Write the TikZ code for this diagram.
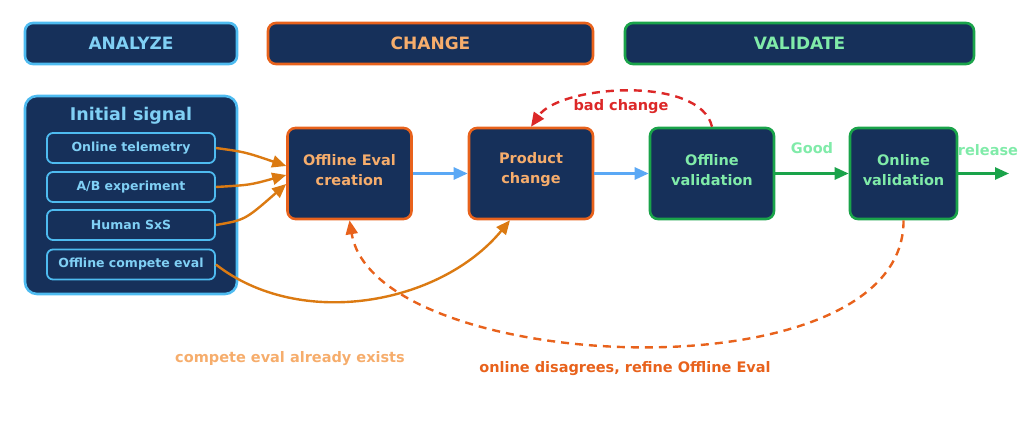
\documentclass[tikz,border=0pt]{standalone}
\usepackage{fontspec}
\setmainfont{DejaVu Sans}
\usetikzlibrary{arrows.meta}
\definecolor{navy}{HTML}{16305A}
\definecolor{skyline}{HTML}{4EBBF0}
\definecolor{skytext}{HTML}{80D0F5}
\definecolor{orline}{HTML}{E8621C}
\definecolor{ortext}{HTML}{F6AD6C}
\definecolor{grline}{HTML}{1AA34A}
\definecolor{grtext}{HTML}{80EBA9}
\definecolor{badred}{HTML}{DC2828}
\definecolor{feed}{HTML}{DB7A12}
\definecolor{flow}{HTML}{5AA8F5}
\tikzset{
    stage/.style = {
        draw, fill = navy, rounded corners = 8pt, line width = 2.6pt,
        font = \fontsize{17}{20}\selectfont\bfseries,
    },
    phase/.style = {
        stage, minimum width = 124pt, minimum height = 91pt,
        align = center, font = \fontsize{14.5}{20}\selectfont\bfseries,
    },
    signal/.style = {
        draw = skyline, fill = navy, text = skytext, rounded corners = 6pt,
        line width = 1.8pt, minimum width = 168pt, minimum height = 30pt,
        font = \fontsize{12.5}{14}\selectfont\bfseries,
    },
    tag/.style = {font = \fontsize{14.5}{17}\selectfont\bfseries},
}

\begin{document}
\begin{tikzpicture}[x=1pt, y=-1pt, >={Triangle[length=14pt,width=12pt]}]
  \useasboundingbox (0,0) rectangle (1024,425);

  % phase headers
  \node[stage, draw=skyline, text=skytext, minimum width=212pt, minimum height=41pt] (analyze) at (131,43.5) {ANALYZE};
  \node[stage, draw=orline, text=ortext, minimum width=325pt, minimum height=41pt] (change) at (430.5,43.5) {CHANGE};
  \node[stage, draw=grline, text=grtext, minimum width=349pt, minimum height=41pt] (validate) at (799.5,43.5) {VALIDATE};

  % initial signal group
  \node[stage, draw=skyline, rounded corners=12pt, minimum width=212pt, minimum height=198pt] (group) at (131,195) {};
  \node[text=skytext, font=\fontsize{17.5}{20}\selectfont\bfseries] (title) at (131,116) {Initial signal};
  \node[signal] (tele) at (131,148) {Online telemetry};
  \node[signal] (ab) at (131,187) {A/B experiment};
  \node[signal] (sxs) at (131,225) {Human SxS};
  \node[signal] (compete) at (131,264.5) {Offline compete eval};

  % main steps
  \node[phase, draw=orline, text=ortext] (eval) at (349.5,173.5) {Offline Eval\\creation\\[-12pt]};
  \node[phase, draw=orline, text=ortext] (product) at (531,173.5) {Product\\change\\[-8pt]};
  \node[phase, draw=grline, text=grtext] (offval) at (712,173.5) {Offline\\validation\\[-12pt]};
  \node[phase, draw=grline, text=grtext, minimum width=107pt] (onval) at (903.5,173.5) {Online\\validation\\[-12pt]};
  \coordinate (out) at (1009,173.5);

  \draw[->, flow, line width=2.6pt] (eval) -- (product);
  \draw[->, flow, line width=2.6pt] (product) -- (offval);
  \draw[->, grline, line width=2.6pt] (offval) -- node[above=15pt, tag, text=grtext] {Good} (onval);
  \draw[->, grline, line width=2.6pt] (onval) -- (out);
  \node[tag, text=grtext] (rel) at (988,150) {release};

  % feeding signals
  \draw[->, feed, line width=2.4pt] (tele.east) .. controls (245,152) .. (eval.west |- 0,166);
  \draw[->, feed, line width=2.4pt] (ab.east) .. controls (250,185) .. (eval.west |- 0,175);
  \draw[->, feed, line width=2.4pt] (sxs.east) .. controls (245,220) .. (eval.west |- 0,184);
  \draw[->, feed, line width=2.4pt] (compete.east) .. controls (300,330) and (440,305) .. (product.south -| 510,0);

  % feedback loops
  \draw[->, badred, line width=2.4pt, dash pattern=on 8pt off 6pt] (offval.north) .. controls (700,75) and (560,85) .. (product.north);
  \node[tag, text=badred] (bad) at (621,107) {bad change};
  \draw[->, orline, line width=2.4pt, dash pattern=on 8pt off 6pt] (onval.south) .. controls (905,400) and (375,375) .. (eval.south);

  \node[tag, text=ortext] (exists) at (290,359) {compete eval already exists};
  \node[tag, text=orline] (disagree) at (625,369) {online disagrees, refine Offline Eval};
\end{tikzpicture}
\end{document}
